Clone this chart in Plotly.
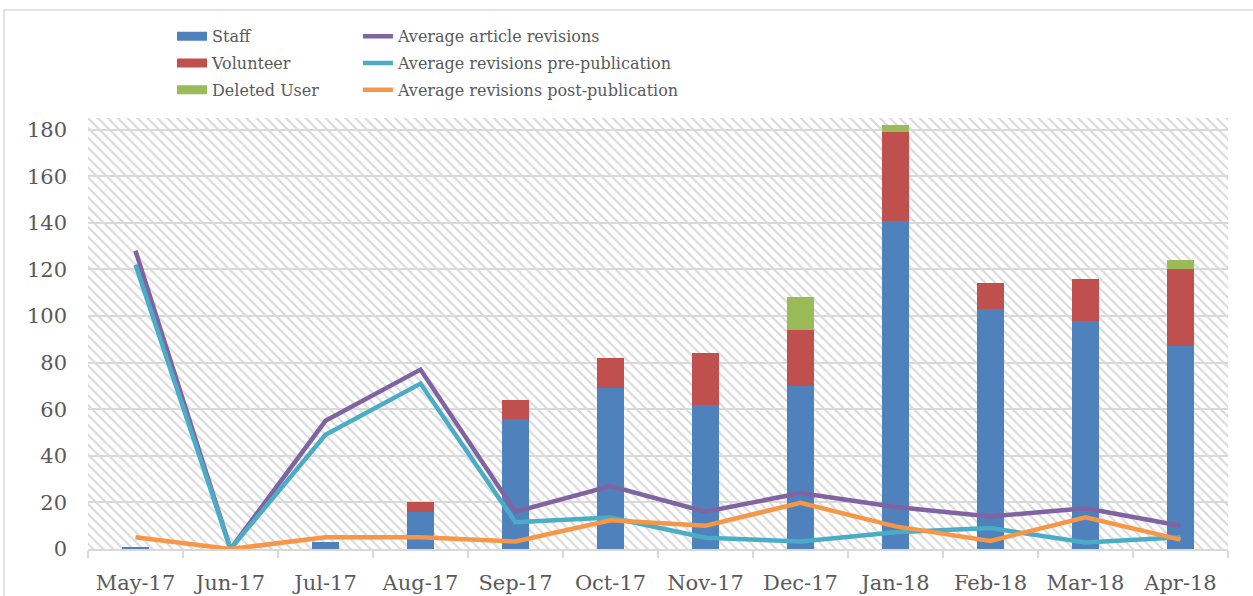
import plotly.graph_objects as go

months = ["May-17", "Jun-17", "Jul-17", "Aug-17", "Sep-17", "Oct-17",
          "Nov-17", "Dec-17", "Jan-18", "Feb-18", "Mar-18", "Apr-18"]
staff = [1, 0, 3, 16, 56, 69, 62, 70, 141, 103, 98, 87]
volunteer = [0, 0, 0, 4, 8, 13, 22, 24, 38, 11, 18, 33]
deleted_user = [0, 0, 0, 0, 0, 0, 0, 14, 3, 0, 0, 4]
avg_article = [128, 0, 55, 77, 16, 27, 16, 24, 18, 14, 17.5, 10]
avg_pre = [122, 0, 49, 71, 11.5, 13.5, 4.8, 3.2, 7.2, 9, 2.8, 5]
avg_post = [5, 0, 5, 5, 3.2, 12.3, 10, 19.8, 9.7, 3.5, 13.6, 4]

FONT = "DejaVu Serif"
TXT = "#595959"
GRID = "#d9d9d9"

fig = go.Figure()

# hatched plot-area background on the base (hidden) axes
fig.add_trace(go.Bar(
    x=[0.5], y=[1], width=[1], xaxis="x", yaxis="y", showlegend=False,
    hoverinfo="skip",
    marker=dict(color="rgba(0,0,0,0)", line=dict(width=0),
                pattern=dict(shape="\\", fgcolor="#d9d9d9", bgcolor="rgba(0,0,0,0)",
                             size=7, solidity=0.3, fillmode="replace")),
))

bar_specs = [("Staff", staff, "#4f81bd"),
             ("Volunteer", volunteer, "#c0504d"),
             ("Deleted User", deleted_user, "#9bbb59")]
for name, vals, col in bar_specs:
    fig.add_trace(go.Bar(
        x=months, y=vals, name=name, xaxis="x2", yaxis="y2",
        marker=dict(color=col, line=dict(width=0)), showlegend=False,
        legendgroup=name,
    ))
    # legend entry drawn Excel-style as a wide swatch
    fig.add_trace(go.Scatter(
        x=[None], y=[None], name=name, mode="lines", xaxis="x2", yaxis="y2",
        line=dict(color=col, width=9), legend="legend", legendgroup=name,
        hoverinfo="skip",
    ))

line_specs = [("Average article revisions", avg_article, "#8064a2"),
              ("Average revisions pre-publication", avg_pre, "#4bacc6"),
              ("Average revisions post-publication", avg_post, "#f79646")]
for name, vals, col in line_specs:
    fig.add_trace(go.Scatter(
        x=months, y=vals, name=name, mode="lines", xaxis="x2", yaxis="y2",
        line=dict(color=col, width=4.5), legend="legend2", legendgroup=name,
    ))

fig.update_layout(
    width=1253, height=596,
    margin=dict(l=88, r=25, t=118, b=47, autoexpand=False),
    paper_bgcolor="white", plot_bgcolor="white",
    barmode="stack", bargap=0.72,
    font=dict(family=FONT, color=TXT, size=20),
    xaxis=dict(visible=False, range=[0, 1], fixedrange=True),
    yaxis=dict(visible=False, range=[0, 1], fixedrange=True),
    xaxis2=dict(overlaying="x", anchor="y2", side="bottom", type="category",
                showgrid=False, showline=True, linecolor=GRID, linewidth=2,
                ticks="outside", tickson="boundaries", ticklen=7, tickcolor=GRID,
                tickwidth=2, ticklabelstandoff=14, automargin=False,
                tickfont=dict(family=FONT, size=21, color=TXT)),
    yaxis2=dict(overlaying="y", anchor="x2", side="left", range=[0, 185],
                dtick=20, showgrid=True, gridcolor=GRID, gridwidth=2,
                zeroline=False, showline=False, ticks="", automargin=False,
                ticklabelstandoff=20,
                tickfont=dict(family=FONT, size=21, color=TXT)),
    legend=dict(x=0.0737, y=1.229, xanchor="left", yanchor="top",
                font=dict(family=FONT, size=16, color=TXT),
                bgcolor="rgba(0,0,0,0)", traceorder="grouped",
                tracegroupgap=3, itemwidth=30),
    legend2=dict(x=0.2368, y=1.229, xanchor="left", yanchor="top",
                 font=dict(family=FONT, size=16, color=TXT),
                 bgcolor="rgba(0,0,0,0)", traceorder="grouped",
                 tracegroupgap=3, itemwidth=30),
    shapes=[dict(type="rect", xref="paper", yref="paper",
                 x0=-0.0737, x1=1.04, y0=-0.2, y1=1.2506,
                 line=dict(color="#d9d9d9", width=1.5), fillcolor="rgba(0,0,0,0)",
                 layer="below")],
)

fig.write_html("out.html", config={"displayModeBar": False},
               post_script="document.body.style.margin='0';")
